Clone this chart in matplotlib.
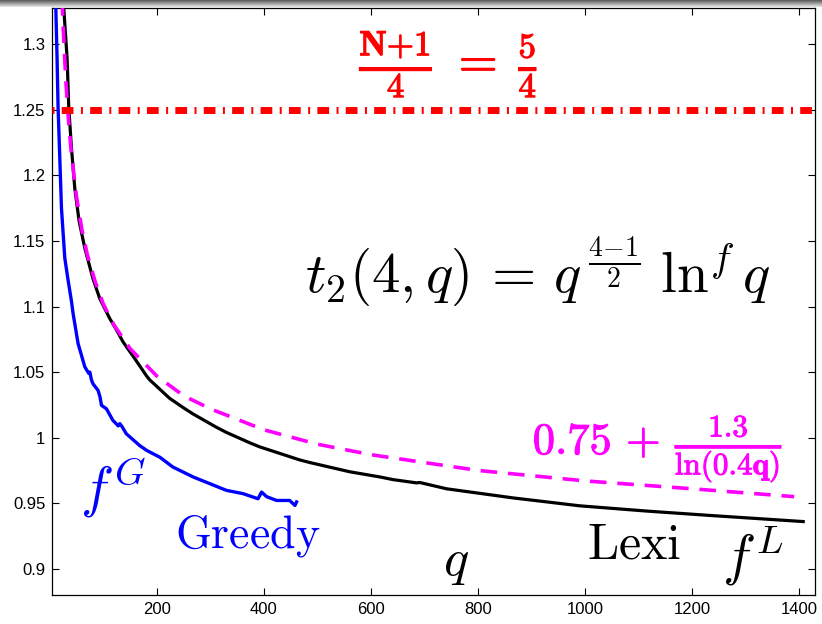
import numpy as np
import matplotlib.pyplot as plt
import matplotlib.patheffects as pe

plt.rcParams['mathtext.fontset'] = 'cm'
plt.rcParams['font.family'] = ['Liberation Sans', 'DejaVu Sans']

# greedy search, f^G (blue)
q_greedy = [11, 13.8, 15.7, 18.9, 22, 28.2, 34.4, 40.7, 43.7, 53, 65.6, 70, 73, 75, 78,
            81, 90.4, 94, 96.7, 106, 118, 128, 131, 135, 143, 168, 181, 206, 230, 243,
            268, 299, 330, 361, 389, 395.6, 405, 423.6, 448, 458, 461]
t_greedy = [1.335, 1.2895, 1.2514, 1.213, 1.175, 1.137, 1.120, 1.104, 1.0947, 1.0718, 1.054,
            1.051, 1.049, 1.050, 1.044, 1.041, 1.036, 1.031, 1.0247, 1.022, 1.0132, 1.009,
            1.0107, 1.0085, 1.003, 0.994, 0.9903, 0.985, 0.9776, 0.975, 0.970, 0.9649,
            0.9598, 0.9573, 0.9534, 0.9585, 0.955, 0.9521, 0.9521, 0.9483, 0.951]

# lexicographic search, f^L (black)
q_lexi = [25, 26.3, 32.5, 35.7, 40.7, 46.9, 55, 65.6, 81, 93.6, 112, 125, 137, 156, 181,
          187, 224, 249, 268, 311, 330, 374, 392, 467, 486, 560, 617, 641, 685, 691, 741,
          866, 990, 1115, 1239, 1407]
t_lexi = [1.335, 1.3275, 1.2895, 1.2514, 1.2208, 1.190, 1.165, 1.1445, 1.121, 1.106, 1.091,
          1.082, 1.073, 1.062, 1.047, 1.044, 1.030, 1.023, 1.018, 1.008, 1.004, 0.996, 0.993,
          0.983, 0.981, 0.974, 0.970, 0.968, 0.9655, 0.9658, 0.961, 0.954, 0.948, 0.944,
          0.9405, 0.936]

# fitted curve 0.75 + 1.3/ln(0.4q) (magenta)
q_fit = [23, 25, 30, 35, 40, 50, 60, 70, 85, 100, 120, 150, 200, 250, 300, 400, 500,
         600, 800, 1000, 1200, 1390]
t_fit = [1.336, 1.315, 1.273, 1.243, 1.219, 1.184, 1.159, 1.140, 1.119, 1.102, 1.086,
         1.068, 1.047, 1.032, 1.022, 1.006, 0.995, 0.987, 0.975, 0.967, 0.961, 0.955]

bound = 1.25  # (N+1)/4 with N=4

x_ticks = [200, 400, 600, 800, 1000, 1200, 1400]
y_ticks = [0.9, 0.95, 1.0, 1.05, 1.1, 1.15, 1.2, 1.25, 1.3]
y_tick_labels = ['0.9', '0.95', '1', '1.05', '1.1', '1.15', '1.2', '1.25', '1.3']

fig = plt.figure(figsize=(8.22, 6.24), dpi=100)
ax = fig.add_axes([0.0637, 0.0465, 0.9278, 0.9402])

ax.plot(q_greedy, t_greedy, color='#0000ff', lw=2.4, zorder=3)
ax.plot(q_lexi, t_lexi, color='black', lw=2.3, zorder=3)
ax.plot(q_fit, t_fit, color='#ff00ff', lw=2.6, dashes=(4.6, 3.0), zorder=4)
ax.axhline(bound, color='#ff0000', lw=5, dashes=(0.29, 1.04, 1.69, 1.07), zorder=5)

ax.set_xlim(5, 1429)
ax.set_ylim(0.88, 1.3275)
ax.set_xticks(x_ticks)
ax.set_yticks(y_ticks)
ax.set_yticklabels(y_tick_labels)
ax.tick_params(direction='in', length=5, width=0.8, top=True, right=True,
               labelsize=12, pad=5)
for s in ax.spines.values():
    s.set_linewidth(0.9)

bold_red = [pe.withStroke(linewidth=0.8, foreground='#ff0000')]
bold_mag = [pe.withStroke(linewidth=0.7, foreground='#ff00ff')]

ax.text(745, 1.285, r'$\frac{\mathbf{N{+}1}}{\mathbf{4}}\;=\;\frac{\mathbf{5}}{\mathbf{4}}$',
        color='#ff0000', fontsize=36, ha='center', va='center', path_effects=bold_red)
ax.text(476, 1.111, r'$t_2(4,q)\,=\,q^{\,\frac{4{-}1}{2}}\;\ln^f q$',
        color='black', fontsize=41, ha='left', va='baseline')
ax.text(902, 0.9876, r'$\mathbf{0.75}\,+\,\frac{\mathbf{1.3}}{\ln(\mathbf{0.4q})}$',
        color='#ff00ff', fontsize=32, ha='left', va='baseline', path_effects=bold_mag)
ax.text(56, 0.9473, r'$f^G$', color='#0000ff', fontsize=40, ha='left', va='baseline')
ax.text(234, 0.9165, r'$\mathrm{Greedy}$', color='#0000ff', fontsize=33,
        ha='left', va='baseline')
ax.text(734, 0.895, r'$q$', color='black', fontsize=38, ha='left', va='baseline')
ax.text(1003, 0.9076, r'$\mathrm{Lexi}$', color='black', fontsize=36,
        ha='left', va='baseline')
ax.text(1255, 0.8955, r'$f^L$', color='black', fontsize=40, ha='left', va='baseline')

# grey window strip at the top
bar = fig.add_axes([0, 1 - 7 / 624, 1, 7 / 624])
bar.imshow(np.linspace(0.35, 0.9, 20).reshape(-1, 1), cmap='gray', vmin=0, vmax=1,
           aspect='auto')
bar.axis('off')

fig.savefig('out.png', dpi=100)
